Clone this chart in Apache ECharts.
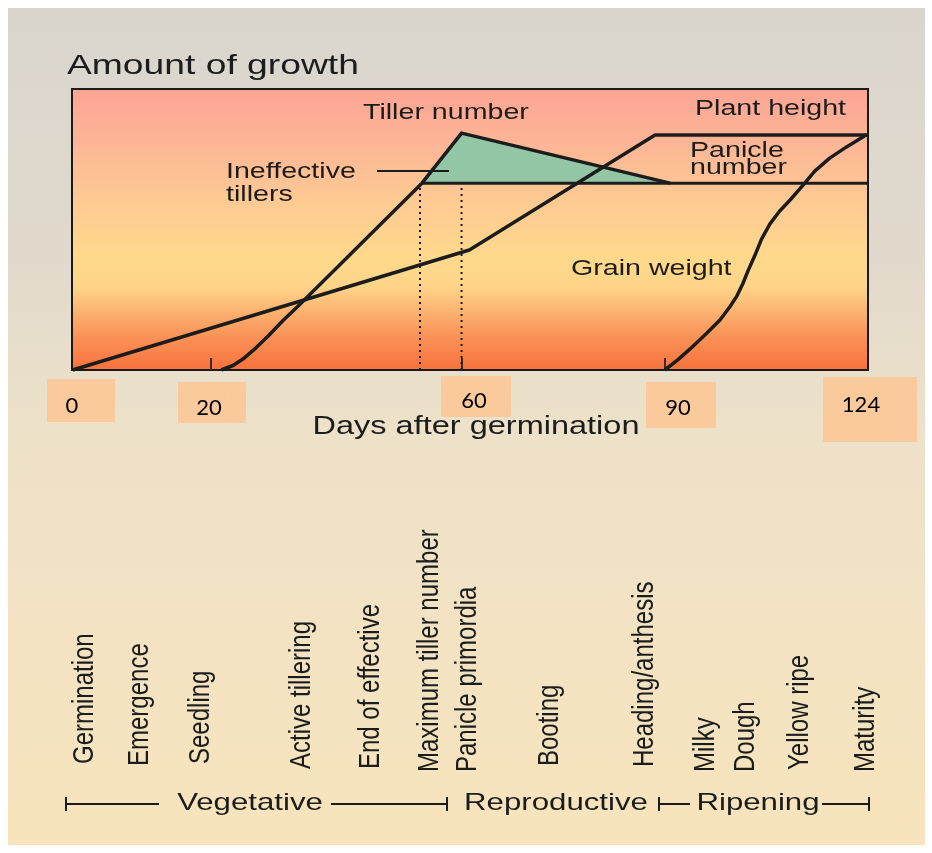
<!DOCTYPE html>
<html><head><meta charset="utf-8">
<script src="https://cdn.jsdelivr.net/npm/echarts@6/dist/echarts.min.js"></script>
<style>html,body{margin:0;padding:0;background:#fff}#c{width:932px;height:853px}</style>
</head><body><div id="c"></div>
<script>
// ---- data (x = days after germination, y = relative amount of growth 0..100) ----
const plantHeight = [[-1.2,0],[59.9,42.7],[88.5,83.6],[121.3,83.6]];
const tillerNumber = [[21.7,0],[23.5,1.6],[25.2,4.2],[27.0,7.8],[29.0,12.3],[31.2,17.6],[33.7,23.1],[52.6,66.5],[58.7,84.3],[90.8,66.5]];
const panicleNumber = [[52.6,66.5],[121.3,66.5]];
const ineffectiveTillers = [[52.6,66.5],[58.7,84.3],[90.8,66.5]];
const grainWeight = [[90.0,0],[92.0,3.6],[93.9,7.5],[96.5,13.2],[98.5,17.8],[100.0,22.4],[101.1,26.3],[102.0,30.6],[102.8,35.2],[103.9,40.9],[104.9,46.6],[106.2,52.0],[107.7,56.6],[109.3,60.5],[111.3,65.8],[113.1,70.8],[115.4,75.4],[118.0,79.4],[121.0,83.6]];
const endEffectiveTillering = [[52.3,0],[52.3,66.5]];
const maxTillerNumber = [[58.7,0],[58.7,65.6]];
const tickDays = [20, 58.7, 90];
const tickLabels = ['0','20','60','90','124'];
const oldTickLabels = ['0','20','60','90','120'];
const stageLabels = ['Germination','Emergence','Seedling','Active tillering','End of effective','Maximum tiller number','Panicle primordia','Booting','Heading/anthesis','Milky','Dough','Yellow ripe','Maturity'];
const phaseLabels = ['Vegetative','Reproductive','Ripening'];

// ---- layout (pixels) ----
const stageLabelX = [85,140,201,302,371,430,468,550,645,706,746,800,866];
const stageLabelBottom = [764,766,764,769,769,772,772,766,767,772,772,770,772];
const tickBoxes = [[47,379,68,43],[178,382,68,41],[441,376,70,41],[646,382,70,46],[823,377,94,65]];
const tickTextPos = [[72,406],[209,408],[474,401],[678,408],[861,405]];
const oldTickPos = [[82,394],[222,398],[480,394],[666,400],[852,398]];

const INK = '#1c1c1c';
const FONT = '"Liberation Sans", Arial, sans-serif';
const chart = echarts.init(document.getElementById('c'), null, {renderer:'canvas'});

function htext(text, x, y, size, align, sx) {
  return {type:'text', x:x, y:y, scaleX: sx || 1.3, z:20, silent:true,
    style:{text:text, font: size+'px '+FONT, fill:INK, align:align||'left', textAlign:align||'left',
      verticalAlign:'middle', textVerticalAlign:'middle'}};
}

const graphics = [];
graphics.push({type:'rect', z:-10, silent:true, shape:{x:8,y:8,width:917,height:837},
  style:{fill:{type:'linear',x:0,y:0,x2:0,y2:1,colorStops:[
    {offset:0,color:'#DAD6CE'},{offset:0.3,color:'#E1D9CC'},{offset:0.5,color:'#EDE1C9'},
    {offset:0.75,color:'#F3E3C3'},{offset:1,color:'#F7E4BC'}]}}});
graphics.push(htext('Amount of growth', 67, 66, 28, 'left', 1.33));
graphics.push(htext('Tiller number', 363, 113, 22));
graphics.push(htext('Plant height', 695, 109, 22));
graphics.push(htext('Panicle', 690, 151, 22));
graphics.push(htext('number', 690, 168, 22));
graphics.push(htext('Ineffective', 226, 172, 22));
graphics.push(htext('tillers', 226, 195, 22));
graphics.push(htext('Grain weight', 571, 269, 22));
graphics.push(htext('Days after germination', 476, 427, 25, 'center'));
graphics.push({type:'line', z:20, silent:true, shape:{x1:377,y1:171,x2:449,y2:171}, style:{stroke:INK, lineWidth:2}});
tickLabels.forEach((t,i)=>{
  const b = tickBoxes[i];
  graphics.push({type:'text', x:oldTickPos[i][0], y:oldTickPos[i][1], z:19, silent:true,
    style:{text:oldTickLabels[i], font:'20px '+FONT, fill:'#D9D0C4', align:'center', textAlign:'center', verticalAlign:'middle', textVerticalAlign:'middle'}});
  graphics.push({type:'rect', z:20, silent:true, shape:{x:b[0],y:b[1],width:b[2],height:b[3]}, style:{fill:'rgba(251,200,154,0.93)'}});
  graphics.push({type:'text', x:tickTextPos[i][0], y:tickTextPos[i][1], z:21, silent:true,
    style:{text:t, font:'22px Lato, "Open Sans", sans-serif', fill:'#000', align:'center', textAlign:'center', verticalAlign:'middle', textVerticalAlign:'middle'}});
});
stageLabels.forEach((t,i)=>{
  graphics.push({type:'text', x:stageLabelX[i], y:stageLabelBottom[i], rotation:Math.PI/2, scaleY:1.25, z:20, silent:true,
    style:{text:t, font:'24px '+FONT, fill:INK, align:'left', textAlign:'left', verticalAlign:'middle', textVerticalAlign:'middle'}});
});
const barY = 804;
[[66,159],[331,447],[659,690],[822,869]].forEach(s=>{
  graphics.push({type:'line', z:20, silent:true, shape:{x1:s[0],y1:barY,x2:s[1],y2:barY}, style:{stroke:INK,lineWidth:2}});
});
[66,447,659,869].forEach(x=>{
  graphics.push({type:'line', z:20, silent:true, shape:{x1:x,y1:barY-7,x2:x,y2:barY+7}, style:{stroke:INK,lineWidth:2}});
});
graphics.push(htext(phaseLabels[0], 250, 803, 24, 'center'));
graphics.push(htext(phaseLabels[1], 556, 803, 24, 'center'));
graphics.push(htext(phaseLabels[2], 758, 803, 24, 'center'));

const lineBase = {type:'line', symbol:'none', silent:true, animation:false};
chart.setOption({
  animation:false,
  backgroundColor:'#ffffff',
  grid:{left:72, top:89, width:796, height:281, show:true, borderColor:'#1a1a1a', borderWidth:2,
    backgroundColor:{type:'linear',x:0,y:0,x2:0,y2:1,colorStops:[
      {offset:0,color:'#FCA494'},{offset:0.2,color:'#FDB696'},{offset:0.4,color:'#FECA93'},
      {offset:0.6,color:'#FFD98B'},{offset:0.7,color:'#FED589'},{offset:0.78,color:'#FCB673'},
      {offset:0.88,color:'#FA9257'},{offset:1,color:'#F8703C'}]}},
  xAxis:{type:'value', min:-1.3, max:121.3, splitLine:{show:false}, axisLabel:{show:false},
    axisLine:{show:false},
    axisTick:{show:true, inside:true, length:12, customValues:tickDays, lineStyle:{color:'#3a2a20', width:2}}},
  yAxis:{type:'value', min:0, max:100, show:false, splitLine:{show:false}},
  graphic: graphics,
  series:[
    {type:'custom', name:'Ineffective tillers', data:ineffectiveTillers, z:1, silent:true,
      renderItem:function(params, api){
        if (params.dataIndex !== 0) return null;
        const pts = ineffectiveTillers.map(p=>api.coord(p));
        return {type:'polygon', shape:{points:pts}, style:{fill:'#93C6A5'}};
      }},
    Object.assign({}, lineBase, {name:'End of effective tillering', data:endEffectiveTillering, z:2, lineStyle:{color:INK,width:2,type:[2,4]}}),
    Object.assign({}, lineBase, {name:'Maximum tiller number', data:maxTillerNumber, z:2, lineStyle:{color:INK,width:2,type:[2,4]}}),
    Object.assign({}, lineBase, {name:'Panicle number', data:panicleNumber, z:3, lineStyle:{color:INK,width:3}}),
    Object.assign({}, lineBase, {name:'Plant height', data:plantHeight, z:4, lineStyle:{color:INK,width:3.5}}),
    Object.assign({}, lineBase, {name:'Tiller number', data:tillerNumber, z:4, lineStyle:{color:INK,width:3.5, join:'round'}}),
    Object.assign({}, lineBase, {name:'Grain weight', data:grainWeight, z:4, lineStyle:{color:INK,width:3.5, join:'round'}})
  ]
});
</script></body></html>
